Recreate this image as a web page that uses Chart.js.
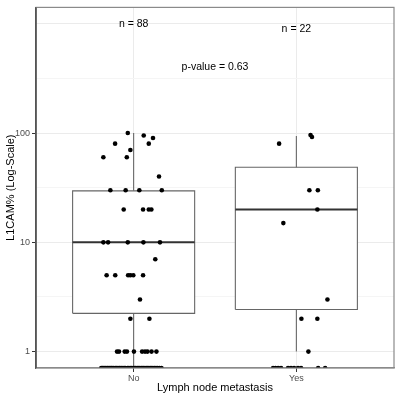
<!DOCTYPE html>
<html>
<head>
<meta charset="utf-8">
<script src="https://cdn.jsdelivr.net/npm/chart.js@4.4.1/dist/chart.umd.min.js"></script>
<style>
  html, body { margin: 0; padding: 0; background: #fff; }
</style>
</head>
<body>
<canvas id="boxChart" width="398" height="398"></canvas>
<script>
const categories = ['No', 'Yes'];
const groupSizes = [88, 22];
const pValue = '0.63';
const yTickLabels = [1, 10, 100];
const yMinorBreaks = [3.162, 31.62, 316.2];
const yTopBreak = 1000;

// boxplot stats (0 = log10(0), drawn on the panel floor)
const boxLower = [0, 1];
const boxQ1 = [2.24, 2.43];
const boxMedian = [10, 20];
const boxQ3 = [29.6, 48.6];
const boxUpper = [100, 94];

// jittered points, value + horizontal offset from the category centre
const noValues = [100, 80, 60, 60, 70, 95, 90, 80, 40,
  30, 30, 30, 30, 20, 20, 20, 20, 10, 10, 10, 10, 10, 7,
  5, 5, 5, 5, 5, 5, 3, 2, 2,
  1, 1, 1, 1, 1, 1, 1, 1, 1, 1,
  0, 0, 0, 0, 0, 0, 0, 0, 0, 0, 0, 0, 0, 0, 0, 0, 0, 0, 0, 0, 0, 0, 0,
  0, 0, 0, 0, 0, 0, 0, 0, 0, 0, 0, 0, 0, 0, 0, 0, 0, 0, 0, 0, 0, 0, 0];
const noJitter = [-0.036, -0.114, -0.186, -0.042, -0.020, 0.062, 0.119, 0.093, 0.156,
  -0.143, -0.049, 0.035, 0.173, -0.061, 0.058, 0.093, 0.109, -0.186, -0.157, -0.036, 0.060, 0.162, 0.133,
  -0.166, -0.113, -0.034, -0.020, -0.002, 0.058, 0.039, -0.020, 0.097,
  -0.102, -0.090, -0.055, -0.041, 0.002, 0.052, 0.070, 0.085, 0.110, 0.140,
  -0.199, -0.192, -0.186, -0.178, -0.171, -0.163, -0.157, -0.149, -0.141, -0.136, -0.128, -0.121,
  -0.112, -0.105, -0.097, -0.089, -0.083, -0.074, -0.066, -0.058, -0.051, -0.038, -0.030,
  -0.021, -0.013, -0.004, 0.006, 0.013, 0.022, 0.029, 0.037, 0.046, 0.053, 0.061, 0.069,
  0.078, 0.086, 0.094, 0.103, 0.111, 0.119, 0.128, 0.137, 0.146, 0.158, 0.171];
const yesValues = [80, 96, 92, 30, 30, 20, 15, 3, 2, 2, 1,
  0, 0, 0, 0, 0, 0, 0, 0, 0, 0, 0];
const yesJitter = [-0.106, 0.087, 0.096, 0.080, 0.132, 0.129, -0.080, 0.191, 0.031, 0.129, 0.074,
  -0.143, -0.128, -0.112, -0.094, -0.051, -0.033, -0.014, 0.010, 0.029, 0.134, 0.177];

const Y_MIN = Math.pow(10, -0.15);
const Y_MAX = Math.pow(10, 3.15);
const BOX_HALF = 0.375;
const N_LABEL_Y = [1000, 900];
const P_LABEL_POS = { x: 1.5, y: 400 };
const FONT = '"Liberation Sans", Arial, Helvetica, sans-serif';

// ggplot puts log10(0) = -Inf on the panel floor
const floorZero = v => (v <= 0 ? Y_MIN : v);

const datasets = [];

const points = [];
noValues.forEach((v, i) => points.push({ x: 1 + noJitter[i], y: floorZero(v) }));
yesValues.forEach((v, i) => points.push({ x: 2 + yesJitter[i], y: floorZero(v) }));
datasets.push({
  type: 'scatter',
  data: points,
  pointRadius: 2.3,
  pointBackgroundColor: '#000',
  pointBorderWidth: 0,
  clip: 0,
  order: 0
});

const lineStyle = { type: 'line', pointRadius: 0, tension: 0, fill: false };

categories.forEach((c, i) => {
  const x = i + 1;
  datasets.push({
    ...lineStyle,
    data: [
      { x: x - BOX_HALF, y: boxQ1[i] }, { x: x + BOX_HALF, y: boxQ1[i] },
      { x: x + BOX_HALF, y: boxQ3[i] }, { x: x - BOX_HALF, y: boxQ3[i] },
      { x: x - BOX_HALF, y: boxQ1[i] }
    ],
    borderColor: '#666',
    borderWidth: 1.1,
    backgroundColor: '#fff',
    fill: 'shape',
    order: 3
  });
  datasets.push({
    ...lineStyle,
    data: [{ x, y: boxQ3[i] }, { x, y: boxUpper[i] }],
    borderColor: '#666',
    borderWidth: 1.1,
    order: 2
  });
  datasets.push({
    ...lineStyle,
    data: [{ x, y: boxQ1[i] }, { x, y: floorZero(boxLower[i]) }],
    borderColor: '#666',
    borderWidth: 1.1,
    order: 2
  });
  datasets.push({
    ...lineStyle,
    data: [{ x: x - BOX_HALF, y: boxMedian[i] }, { x: x + BOX_HALF, y: boxMedian[i] }],
    borderColor: '#333',
    borderWidth: 2,
    order: 1
  });
});

const textLayer = {
  id: 'textLayer',
  afterDraw(chart) {
    const { ctx, chartArea: a, scales: { x, y } } = chart;
    ctx.save();
    ctx.strokeStyle = '#8a8a8a';
    ctx.lineWidth = 1.2;
    ctx.strokeRect(a.left, a.top, a.right - a.left, a.bottom - a.top);
    ctx.strokeStyle = '#444';
    ctx.beginPath();
    ctx.moveTo(a.left, a.top);
    ctx.lineTo(a.left, a.bottom);
    ctx.stroke();

    ctx.font = '10.5px ' + FONT;
    ctx.fillStyle = '#000';
    ctx.textAlign = 'center';
    ctx.textBaseline = 'middle';
    categories.forEach((c, i) => {
      ctx.fillText('n = ' + groupSizes[i], x.getPixelForValue(i + 1), y.getPixelForValue(N_LABEL_Y[i]));
    });
    ctx.fillText('p-value = ' + pValue, x.getPixelForValue(P_LABEL_POS.x), y.getPixelForValue(P_LABEL_POS.y));
    ctx.restore();
  }
};

new Chart(document.getElementById('boxChart'), {
  type: 'scatter',
  data: { datasets },
  options: {
    responsive: false,
    animation: false,
    layout: { padding: { top: 3, right: 4, left: 0, bottom: 0 } },
    plugins: {
      legend: { display: false },
      tooltip: { enabled: false }
    },
    scales: {
      x: {
        type: 'linear',
        min: 0.4,
        max: 2.6,
        bounds: 'data',
        afterBuildTicks: s => { s.ticks = categories.map((c, i) => ({ value: i + 1 })); },
        afterFit: s => { s.height = 30; },
        ticks: {
          callback: v => categories[v - 1] ?? '',
          color: '#4d4d4d',
          font: { family: FONT, size: 9 },
          padding: 1,
          maxRotation: 0,
          autoSkip: false
        },
        grid: { color: '#ebebeb', lineWidth: 1, tickLength: 4, tickColor: '#333' },
        border: { display: true, color: '#8a8a8a', width: 1.2 },
        title: {
          display: true,
          text: 'Lymph node metastasis',
          color: '#000',
          font: { family: FONT, size: 11 },
          padding: { top: 0, bottom: 3 }
        }
      },
      y: {
        type: 'logarithmic',
        min: Y_MIN,
        max: Y_MAX,
        bounds: 'data',
        afterBuildTicks: s => {
          s.ticks = [...yTickLabels, ...yMinorBreaks, yTopBreak]
            .sort((a, b) => a - b)
            .map(v => ({ value: v }));
        },
        afterFit: s => { s.width = 36; },
        ticks: {
          callback: v => (yTickLabels.includes(v) ? String(v) : ''),
          color: '#4d4d4d',
          font: { family: FONT, size: 9 },
          padding: 2,
          autoSkip: false
        },
        grid: {
          color: ctx => (ctx.tick && yMinorBreaks.includes(ctx.tick.value) ? '#f5f5f5' : '#ebebeb'),
          lineWidth: 1,
          tickLength: 4,
          tickColor: ctx => (ctx.tick && yTickLabels.includes(ctx.tick.value) ? '#333' : 'rgba(0,0,0,0)')
        },
        border: { display: true, color: '#444', width: 1.2 },
        title: {
          display: true,
          text: 'L1CAM% (Log-Scale)',
          color: '#000',
          font: { family: FONT, size: 11 },
          padding: { top: 4, bottom: 0 }
        }
      }
    }
  },
  plugins: [textLayer]
});
</script>
</body>
</html>
